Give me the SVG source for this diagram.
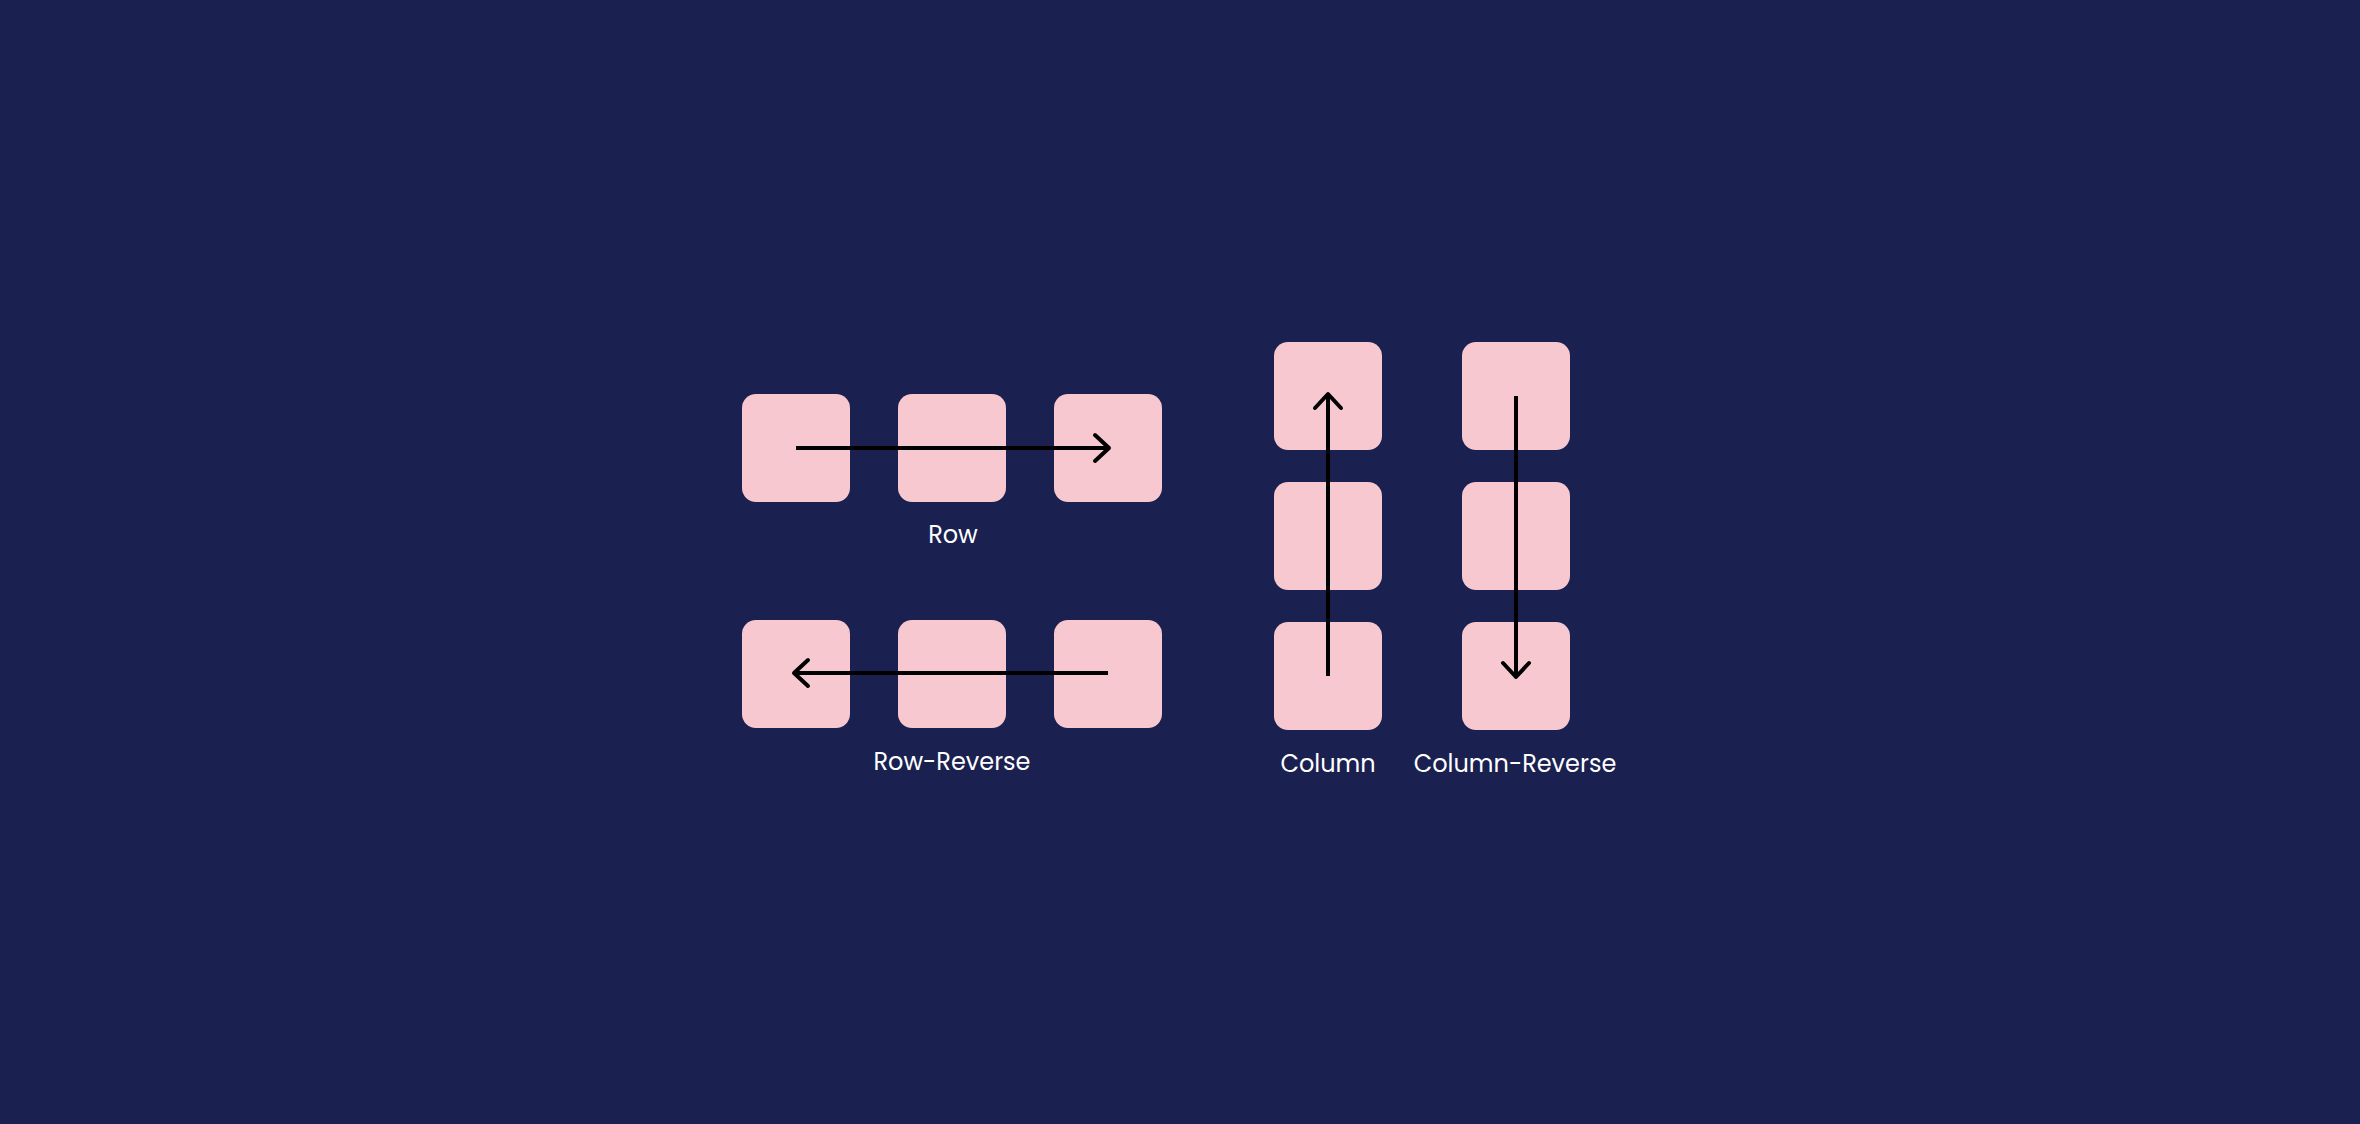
<svg xmlns="http://www.w3.org/2000/svg" width="2360" height="1124" viewBox="0 0 2360 1124">
<style>
.box{fill:#f7c8cf}
.lbl{fill:#ffffff;font-family:Poppins,"Open Sans","Noto Sans",sans-serif;font-size:24px;text-anchor:middle}
.arr{stroke:#000;stroke-width:4;fill:none;marker-end:url(#head)}
</style>
<defs>
<marker id="head" markerUnits="userSpaceOnUse" viewBox="-20 -20 40 40" markerWidth="40" markerHeight="40" refX="0" refY="0" orient="auto">
<path d="M-14,-13 L0,0 L-14,13" fill="none" stroke="#000" stroke-width="4" stroke-linecap="round" stroke-linejoin="round"/>
</marker>
</defs>
<rect width="2360" height="1124" fill="#1a2050"/>
<g id="row">
<rect id="row-1" class="box" x="742" y="394" width="108" height="108" rx="14"/>
<rect id="row-2" class="box" x="898" y="394" width="108" height="108" rx="14"/>
<rect id="row-3" class="box" x="1054" y="394" width="108" height="108" rx="14"/>
<text class="lbl" x="953" y="543">Row</text>
</g>
<g id="row-reverse">
<rect id="rr-1" class="box" x="742" y="620" width="108" height="108" rx="14"/>
<rect id="rr-2" class="box" x="898" y="620" width="108" height="108" rx="14"/>
<rect id="rr-3" class="box" x="1054" y="620" width="108" height="108" rx="14"/>
<text class="lbl" x="952" y="770">Row-Reverse</text>
</g>
<g id="column">
<rect id="col-1" class="box" x="1274" y="342" width="108" height="108" rx="14"/>
<rect id="col-2" class="box" x="1274" y="482" width="108" height="108" rx="14"/>
<rect id="col-3" class="box" x="1274" y="622" width="108" height="108" rx="14"/>
<text class="lbl" x="1328" y="772">Column</text>
</g>
<g id="column-reverse">
<rect id="cr-1" class="box" x="1462" y="342" width="108" height="108" rx="14"/>
<rect id="cr-2" class="box" x="1462" y="482" width="108" height="108" rx="14"/>
<rect id="cr-3" class="box" x="1462" y="622" width="108" height="108" rx="14"/>
<text class="lbl" x="1515" y="772">Column-Reverse</text>
</g>
<g id="connectors">
<line class="arr" x1="796" y1="448" x2="1109" y2="448"/>
<line class="arr" x1="1108" y1="673" x2="794" y2="673"/>
<line class="arr" x1="1328" y1="676" x2="1328" y2="394"/>
<line class="arr" x1="1516" y1="396" x2="1516" y2="677"/>
</g>
</svg>
